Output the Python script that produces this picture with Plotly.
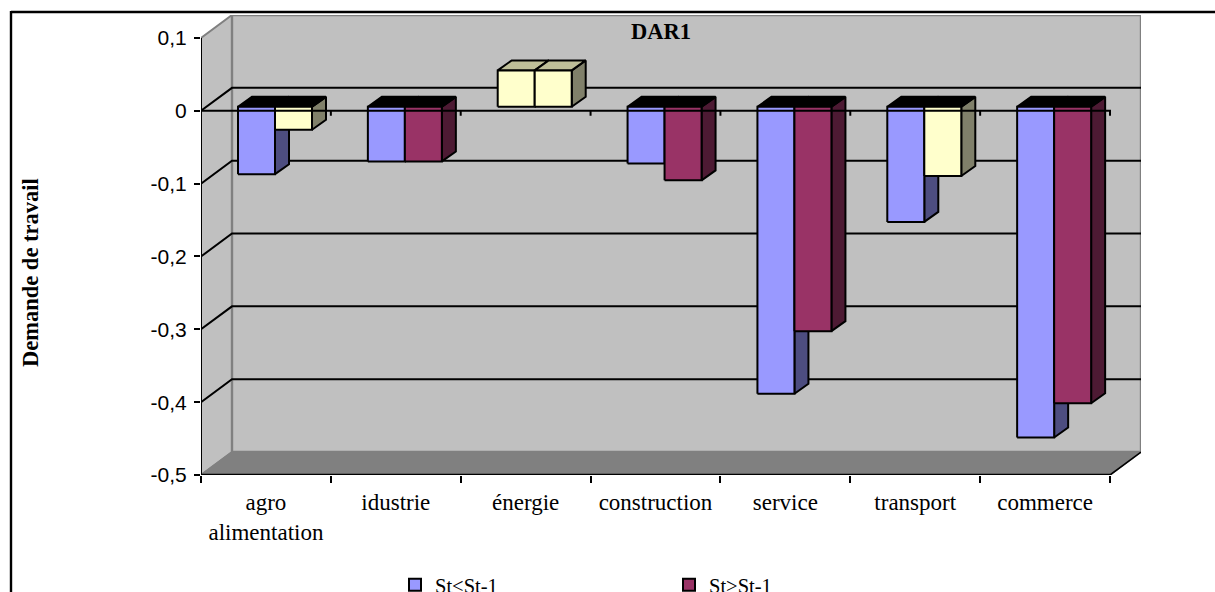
import plotly.graph_objects as go

categories = ["agro<br>alimentation", "idustrie", "énergie", "construction", "service", "transport", "commerce"]
st_lower = [-0.0925, -0.075, 0.05, -0.078, -0.394, -0.158, -0.454]
st_upper = [-0.0315, -0.075, 0.05, -0.101, -0.308, -0.095, -0.407]
# points drawn in the pale colour instead of the series colour
pale_lower = [False, False, True, False, False, False, False]
pale_upper = [True, False, True, False, False, True, False]
y_ticks = [0.1, 0, -0.1, -0.2, -0.3, -0.4, -0.5]
y_labels = ["0,1", "0", "-0,1", "-0,2", "-0,3", "-0,4", "-0,5"]
grid_values = [0, -0.1, -0.2, -0.3, -0.4]

W, H = 1215, 592
L, R, T, B = 201, 1141, 15, 475          # plot area in pixels
PX_X = (1110 - 201) / 7                  # pixels per category
PX_Y = 730.0                             # pixels per unit of y
wall_dx, wall_dy = 31 / PX_X, 23 / PX_Y  # floor depth
bar_dx, bar_dy = 14 / PX_X, 10 / PX_Y    # bar depth
bar_w = 37 / PX_X
bar_start = 37 / PX_X
bar_lift = 4 / PX_Y

BLUE = ("#9999FF", "#4D4D80", "#7373BF")
RED = ("#993366", "#4D1A33", "#732650")
PALE = ("#FFFFCC", "#80806A", "#BFBF99")


def poly(points, fill, width=2, color="black"):
    xs = [p[0] for p in points] + [points[0][0]]
    ys = [p[1] for p in points] + [points[0][1]]
    return go.Scatter(x=xs, y=ys, mode="lines", fill="toself", fillcolor=fill,
                      line=dict(color=color, width=width), hoverinfo="skip",
                      showlegend=False, cliponaxis=False)


def line(xs, ys, width=2, color="black"):
    return go.Scatter(x=xs, y=ys, mode="lines", line=dict(color=color, width=width),
                      hoverinfo="skip", showlegend=False, cliponaxis=False, connectgaps=False)


fig = go.Figure()
xmax = 7 + wall_dx
ymin, ymax = -0.5, 0.1 + wall_dy

# walls and floor
fig.add_trace(poly([(0, -0.5), (wall_dx, -0.5 + wall_dy), (wall_dx, ymax), (0, 0.1)], "#C0C0C0", 2, "#808080"))
fig.add_trace(poly([(wall_dx, -0.5 + wall_dy), (xmax, -0.5 + wall_dy), (xmax, ymax), (wall_dx, ymax)], "#C0C0C0", 2.4, "#808080"))
fig.add_trace(poly([(0, -0.5), (7, -0.5), (xmax, -0.5 + wall_dy), (wall_dx, -0.5 + wall_dy)], "#808080", 1.5, "#808080"))
fig.add_trace(line([7, xmax], [-0.5, -0.5 + wall_dy], 1.6))

# gridlines on the side and back walls
for g in grid_values:
    fig.add_trace(line([0, wall_dx, xmax], [g, g + wall_dy, g + wall_dy], 2))


def draw_series(values, pale, colours):
    sides, tops, fronts = [], [], []
    for i, v in enumerate(values):
        offset = 0 if colours is BLUE else bar_w
        x0 = i + bar_start + offset
        x1 = x0 + bar_w
        y_value = v + bar_lift
        y_zero = bar_lift
        front, side, top = PALE if pale[i] else colours
        upper, lower = max(y_value, y_zero), min(y_value, y_zero)
        sides.append(poly([(x1, lower), (x1 + bar_dx, lower + bar_dy), (x1 + bar_dx, upper + bar_dy), (x1, upper)], side))
        tops.append(poly([(x0, upper), (x1, upper), (x1 + bar_dx, upper + bar_dy), (x0 + bar_dx, upper + bar_dy)],
                         top if v > 0 else "#000000"))
        fronts.append(poly([(x0, lower), (x1, lower), (x1, upper), (x0, upper)], front))
    fig.add_traces(sides + tops + fronts)


draw_series(st_lower, pale_lower, BLUE)
draw_series(st_upper, pale_upper, RED)

# axes drawn in front of the bars
tick = 5 / PX_Y
zx, zy = [0], [0]
for k in range(1, 8):
    zx += [k, k, k]
    zy += [0, -tick, 0]
fig.add_trace(line(zx, zy, 2))
fig.add_trace(line([0, 7], [-0.5, -0.5], 2.6))
fig.add_trace(line([0, 0], [-0.5, 0.1], 2))

# legend entries
for name, col in (("St&lt;St-1", BLUE[0]), ("St&gt;St-1", RED[0])):
    fig.add_trace(go.Scatter(x=[None], y=[None], mode="markers", name=name,
                             marker=dict(symbol="square", size=12, color=col, line=dict(color="black", width=2))))


def px(x):
    return (x - L) / (R - L)


def py(y):
    return (B - y) / (B - T)


fig.update_layout(
    width=W, height=H, autosize=False,
    margin=dict(l=L, r=W - R, t=T, b=H - B, pad=0, autoexpand=False),
    paper_bgcolor="white", plot_bgcolor="rgba(0,0,0,0)",
    title=dict(text="<b>DAR1</b>", x=px(661), xref="paper", xanchor="center",
               y=1 - 31 / H, yref="container", yanchor="middle",
               font=dict(family="Liberation Serif", size=22.5, color="black")),
    xaxis=dict(range=[0, xmax], showgrid=False, zeroline=False, showline=False,
               tickmode="array", tickvals=[i + 0.5 for i in range(7)], ticktext=categories,
               ticks="", ticklabelstandoff=11,
               tickfont=dict(family="Liberation Serif", size=23, color="black"),
               minor=dict(tickmode="array", tickvals=list(range(8)), ticks="outside",
                          ticklen=7, tickwidth=2, tickcolor="black", showgrid=False)),
    yaxis=dict(range=[ymin, ymax], showgrid=False, zeroline=False, showline=False,
               tickmode="array", tickvals=y_ticks, ticktext=y_labels,
               ticks="outside", ticklen=6, tickwidth=2, tickcolor="black", ticklabelstandoff=3,
               tickfont=dict(family="Liberation Sans", size=21, color="black")),
    legend=dict(orientation="h", x=px(395), xanchor="left", y=py(565), yanchor="top",
                entrywidth=229, entrywidthmode="pixels", traceorder="normal",
                bgcolor="rgba(0,0,0,0)", itemclick=False, itemdoubleclick=False,
                font=dict(family="Liberation Serif", size=20.5, color="black")),
    annotations=[dict(text="<b>Demande de travail</b>", textangle=-90, showarrow=False,
                      x=px(30), y=py(273), xref="paper", yref="paper",
                      xanchor="center", yanchor="middle",
                      font=dict(family="Liberation Serif", size=22.5, color="black"))],
    shapes=[
        dict(type="line", xref="paper", yref="paper", x0=px(11), x1=px(1215), y0=py(12), y1=py(12),
             line=dict(color="black", width=2.4)),
        dict(type="line", xref="paper", yref="paper", x0=px(11), x1=px(11), y0=py(11), y1=py(592),
             line=dict(color="black", width=2.4)),
    ],
)

fig.write_html("out.html", config=dict(displayModeBar=False),
               post_script="document.body.style.margin='0';document.body.style.overflow='hidden';")
